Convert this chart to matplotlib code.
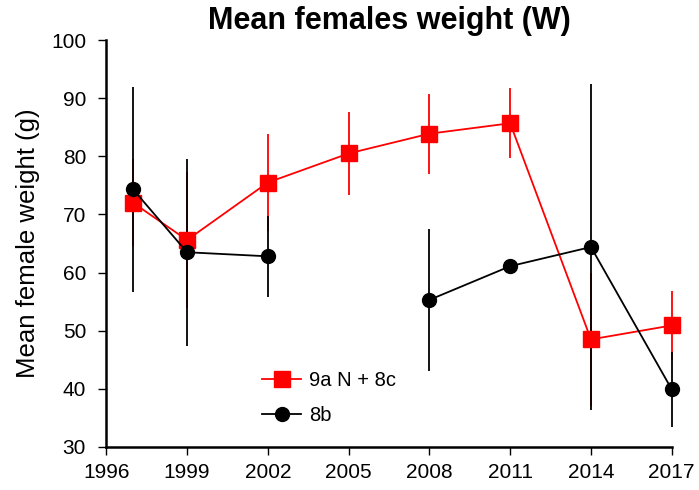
import numpy as np
import matplotlib.pyplot as plt

plt.rcParams['font.family'] = ['Liberation Sans', 'DejaVu Sans']

anos = [1997, 1999, 2002, 2005, 2008, 2011, 2014, 2017]

# 9a N + 8c
peso_9a = [72.0, 65.6, 75.5, 80.5, 83.9, 85.7, 48.5, 50.9]
erro_9a = [7.5, 11.7, 8.3, 7.1, 6.9, 6.0, 11.5, 6.0]

# 8b (sem dado em 2005)
peso_8b = [74.3, 63.5, 62.8, np.nan, 55.3, 61.1, 64.4, 39.9]
erro_8b = [17.6, 16.1, 7.0, np.nan, 12.2, 0.0, 28.1, 6.5]

fig = plt.figure(figsize=(6.99, 4.90), dpi=100)
ax = fig.add_axes([0.152, 0.088, 0.809, 0.830])

x = np.array(anos, dtype=float)

# barras de erro (sem tampa)
ax.errorbar(x, peso_9a, yerr=erro_9a, color='red', linestyle='none',
            elinewidth=1.3, capsize=0, zorder=2, clip_on=False)
y8 = np.array(peso_8b)
e8 = np.array(erro_8b)
ok = ~np.isnan(y8)
ax.errorbar(x[ok], y8[ok], yerr=e8[ok], color='black', linestyle='none',
            elinewidth=1.3, capsize=0, zorder=3, clip_on=False)

# linhas e marcadores
ax.plot(x, peso_9a, color='red', marker='s', markersize=11, linewidth=1.3,
        label='9a N + 8c', zorder=4, clip_on=False)
ax.plot(x, y8, color='black', marker='o', markersize=10, linewidth=1.3,
        label='8b', zorder=5, clip_on=False)

ax.set_xlim(1996, 2017)
ax.set_ylim(30, 100)
ax.set_xticks(range(1996, 2018, 3))
ax.set_yticks(range(30, 101, 10))
ax.spines['top'].set_visible(False)
ax.spines['right'].set_visible(False)
ax.spines['left'].set_linewidth(1.8)
ax.spines['bottom'].set_linewidth(1.8)
ax.tick_params(direction='out', length=5.5, width=1.0, labelsize=15)
ax.tick_params(axis='x', pad=6)
ax.tick_params(axis='y', pad=9)

ax.set_ylabel('Mean female weight (g)', fontsize=18.5, labelpad=8)
ax.set_title('Mean females weight (W)', fontsize=22, fontweight='bold', pad=8)

ax.legend(loc='lower left', bbox_to_anchor=(0.262, 0.035),
          frameon=False, fontsize=14.5, handlelength=1.9, labelspacing=0.75,
          handletextpad=0.4, borderaxespad=0)

plt.savefig('out.png', dpi=100)
plt.close()
